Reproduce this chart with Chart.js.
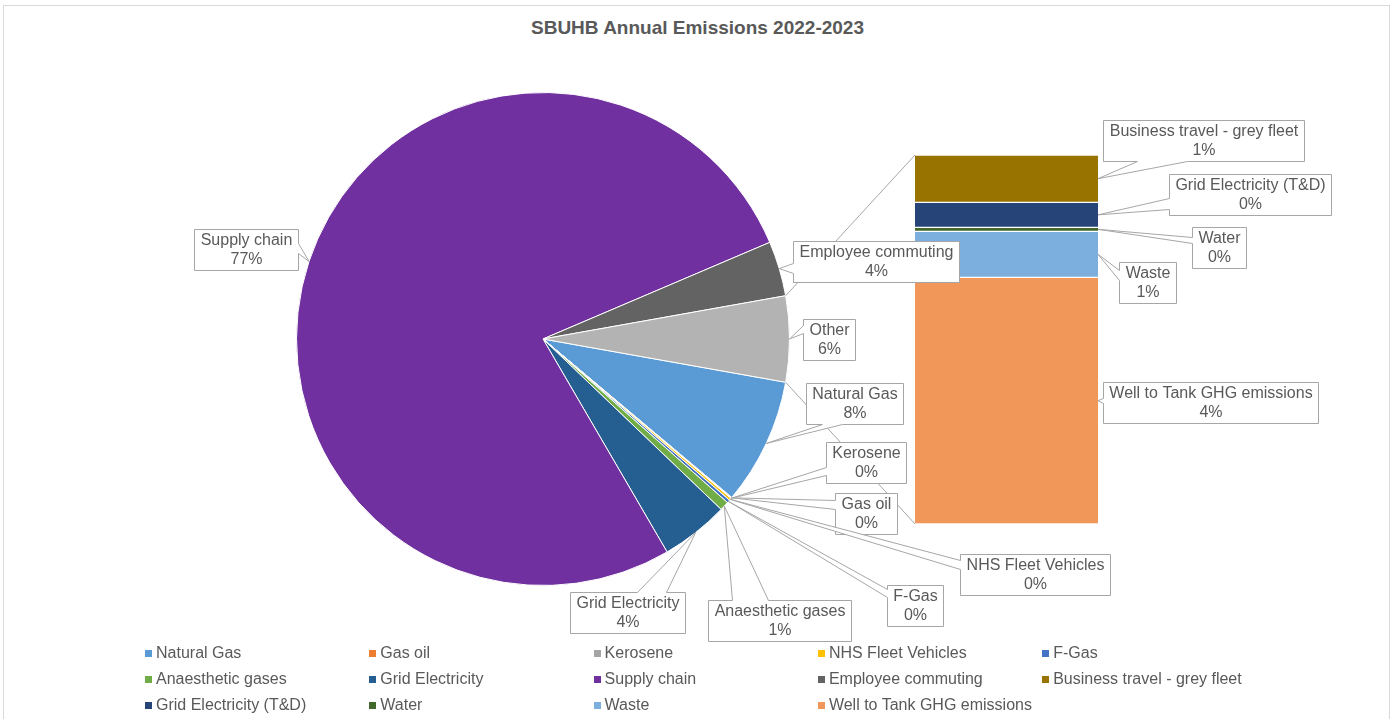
<!DOCTYPE html>
<html>
<head>
<meta charset="utf-8">
<script src="https://cdn.jsdelivr.net/npm/chart.js@4.4.0/dist/chart.umd.min.js"></script>
<style>
html,body{margin:0;padding:0;background:#fff;}
#wrap{position:relative;width:1395px;height:719px;overflow:hidden;font-family:"Liberation Sans",Arial,sans-serif;}
#frame{position:absolute;left:3px;top:5px;width:1385px;height:760px;border:1px solid #D9D9D9;}
canvas{position:absolute;left:0;top:0;}
#title{position:absolute;left:0;width:1395px;top:17px;line-height:22px;text-align:center;font-weight:bold;font-size:19px;color:#595959;}
#legend{position:absolute;left:145px;top:640px;display:grid;grid-template-columns:repeat(5,224.3px);grid-auto-rows:26px;}
.li{display:flex;align-items:center;font-size:16px;color:#595959;white-space:nowrap;}
.mk{width:7px;height:7px;margin-right:4px;flex:none;}
</style>
</head>
<body>
<div id="wrap">
  <div id="frame"></div>
  <div id="title"></div>
  <canvas id="pie" width="1395" height="719" style="width:1395px;height:719px"></canvas>
  <canvas id="bar" width="1395" height="719" style="width:1395px;height:719px"></canvas>
  <div id="legend"></div>
</div>
<script>
// ---- data (percent of total emissions) ----
const titleText = 'SBUHB Annual Emissions 2022-2023';
const pieCategories = ['Natural Gas','Gas oil','Kerosene','NHS Fleet Vehicles','F-Gas','Anaesthetic gases','Grid Electricity','Supply chain','Employee commuting'];
const pieValues = [8.3, 0.05, 0.03, 0.15, 0.2, 0.6, 4.45, 76.9, 3.6];
const barCategories = ['Business travel - grey fleet','Grid Electricity (T&D)','Water','Waste','Well to Tank GHG emissions'];
const barValues = [0.72, 0.38, 0.06, 0.70, 3.75];
const otherLabel = 'Other';

// ---- styles ----
const pieColors = ['#5B9BD5','#ED7D31','#A5A5A5','#FFC000','#4472C4','#70AD47','#255E91','#7030A0','#636363'];
const barColors = ['#997300','#264478','#43682B','#7CAFDD','#F1975A'];
const otherColor = '#B3B3B3';
const textColor = '#595959';
const lineColor = '#A6A6A6';
const FONT = '"Liberation Sans", Arial, sans-serif';

// ---- label layout (box top-left, pointer side and base offsets) ----
const calloutLayout = {
  'Supply chain':                {x:194, y:229, side:'right',  a:14, b:24},
  'Employee commuting':          {x:793, y:241, side:'left',   a:22, b:32},
  'Other':                       {x:803, y:319, side:'left',   a:6,  b:14},
  'Natural Gas':                 {x:806, y:383, side:'bottom', a:16, b:36},
  'Kerosene':                    {x:826, y:442, side:'left',   a:25, b:33},
  'Gas oil':                     {x:835, y:493, side:'left',   a:7,  b:16},
  'NHS Fleet Vehicles':          {x:960, y:554, side:'left',   a:6,  b:15},
  'F-Gas':                       {x:887, y:585, side:'left',   a:4,  b:12},
  'Anaesthetic gases':           {x:708, y:600, side:'top',    a:24, b:60},
  'Grid Electricity':            {x:570, y:592, side:'top',    a:67, b:96},
  'Business travel - grey fleet':{x:1103,y:120, side:'bottom', a:34, b:84},
  'Grid Electricity (T&D)':      {x:1169,y:174, side:'left',   a:24, b:35},
  'Water':                       {x:1192,y:227, side:'left',   a:10, b:16},
  'Waste':                       {x:1119,y:262, side:'left',   a:8,  b:18},
  'Well to Tank GHG emissions':  {x:1103,y:382, side:'left',   a:16, b:21}
};

const otherValue = barValues.reduce((s,v)=>s+v,0);
const total = pieValues.reduce((s,v)=>s+v,0) + otherValue;
const pct = v => Math.round(v/total*100) + '%';

document.getElementById('title').textContent = titleText;

// legend
const legendEl = document.getElementById('legend');
pieCategories.map((c,i)=>[c,pieColors[i]]).concat(barCategories.map((c,i)=>[c,barColors[i]])).forEach(([c,col])=>{
  const d = document.createElement('div'); d.className='li';
  const m = document.createElement('span'); m.className='mk'; m.style.background=col;
  const t = document.createElement('span'); t.textContent=c;
  d.appendChild(m); d.appendChild(t); legendEl.appendChild(d);
});

const pieChart = new Chart(document.getElementById('pie'), {
  type: 'pie',
  data: {
    labels: [...pieCategories, otherLabel],
    datasets: [{
      data: [...pieValues, otherValue],
      backgroundColor: [...pieColors, otherColor],
      borderColor: '#ffffff',
      borderWidth: 1
    }]
  },
  options: {
    responsive: false,
    animation: false,
    rotation: 90 + otherValue/total*180,
    layout: {padding: {left:296, right:605, top:92, bottom:133}},
    plugins: {legend:{display:false}, tooltip:{enabled:false}, title:{display:false}}
  }
});

function drawCallout(ctx, lines, box, tip) {
  ctx.save();
  ctx.font = '16px ' + FONT;
  const tw = Math.max(...lines.map(l=>ctx.measureText(l).width));
  const w = Math.round(tw + 12), h = 41;
  const L = box.x + 0.5, T = box.y + 0.5, R = L + w, B = T + h;
  const a = box.a, b = box.b;
  ctx.beginPath();
  ctx.moveTo(L, T);
  if (box.side === 'top') { ctx.lineTo(L+a, T); ctx.lineTo(tip.x, tip.y); ctx.lineTo(L+b, T); }
  ctx.lineTo(R, T);
  if (box.side === 'right') { ctx.lineTo(R, T+a); ctx.lineTo(tip.x, tip.y); ctx.lineTo(R, T+b); }
  ctx.lineTo(R, B);
  if (box.side === 'bottom') { ctx.lineTo(L+b, B); ctx.lineTo(tip.x, tip.y); ctx.lineTo(L+a, B); }
  ctx.lineTo(L, B);
  if (box.side === 'left') { ctx.lineTo(L, T+b); ctx.lineTo(tip.x, tip.y); ctx.lineTo(L, T+a); }
  ctx.closePath();
  ctx.fillStyle = '#ffffff';
  ctx.fill();
  ctx.strokeStyle = lineColor;
  ctx.lineWidth = 1;
  ctx.lineJoin = 'miter';
  ctx.stroke();
  ctx.fillStyle = textColor;
  ctx.textAlign = 'center';
  ctx.textBaseline = 'middle';
  ctx.fillText(lines[0], L + w/2, T + 11);
  ctx.fillText(lines[1], L + w/2, T + 30);
  ctx.restore();
}

const calloutPlugin = {
  id: 'callouts',
  afterDraw(chart) {
    const ctx = chart.ctx;
    const pieMeta = pieChart.getDatasetMeta(0);
    const arcs = pieMeta.data;
    const labels = pieChart.data.labels;
    const vals = pieChart.data.datasets[0].data;
    const nBar = barCategories.length;
    const barEl = i => chart.getDatasetMeta(nBar - 1 - i).data[0];

    // connector lines between pie "Other" slice and the bar
    const other = arcs[arcs.length - 1];
    const topBar = barEl(0), bottomBar = barEl(nBar - 1);
    const barLeft = topBar.x - topBar.width/2;
    ctx.save();
    ctx.strokeStyle = lineColor;
    ctx.lineWidth = 1;
    ctx.beginPath();
    ctx.moveTo(other.x + other.outerRadius*Math.cos(other.startAngle), other.y + other.outerRadius*Math.sin(other.startAngle));
    ctx.lineTo(barLeft, topBar.y);
    ctx.moveTo(other.x + other.outerRadius*Math.cos(other.endAngle), other.y + other.outerRadius*Math.sin(other.endAngle));
    ctx.lineTo(barLeft, bottomBar.base);
    ctx.stroke();
    ctx.restore();

    // pie callouts
    arcs.forEach((arc, i) => {
      const name = labels[i];
      const box = calloutLayout[name];
      if (!box) return;
      const mid = (arc.startAngle + arc.endAngle) / 2;
      const tip = {x: arc.x + arc.outerRadius*Math.cos(mid), y: arc.y + arc.outerRadius*Math.sin(mid)};
      drawCallout(ctx, [name, pct(vals[i])], box, tip);
    });

    // bar callouts
    barCategories.forEach((name, i) => {
      const el = barEl(i);
      const box = calloutLayout[name];
      const tip = {x: el.x + el.width/2, y: (el.y + el.base)/2};
      drawCallout(ctx, [name, pct(barValues[i])], box, tip);
    });
  }
};

const barChart = new Chart(document.getElementById('bar'), {
  type: 'bar',
  data: {
    labels: [otherLabel],
    datasets: barCategories.map((c,i)=>({
      label: c,
      data: [barValues[i]],
      backgroundColor: barColors[i],
      borderColor: '#ffffff',
      borderWidth: {top:1, bottom:1, left:0, right:0},
      borderSkipped: false,
      barPercentage: 1,
      categoryPercentage: 1
    })).reverse()
  },
  options: {
    responsive: false,
    animation: false,
    layout: {padding: {left:915, right:297, top:155, bottom:195}},
    scales: {
      x: {display:false, stacked:true},
      y: {display:false, stacked:true, min:0, max:otherValue}
    },
    plugins: {legend:{display:false}, tooltip:{enabled:false}}
  },
  plugins: [calloutPlugin]
});
</script>
</body>
</html>
